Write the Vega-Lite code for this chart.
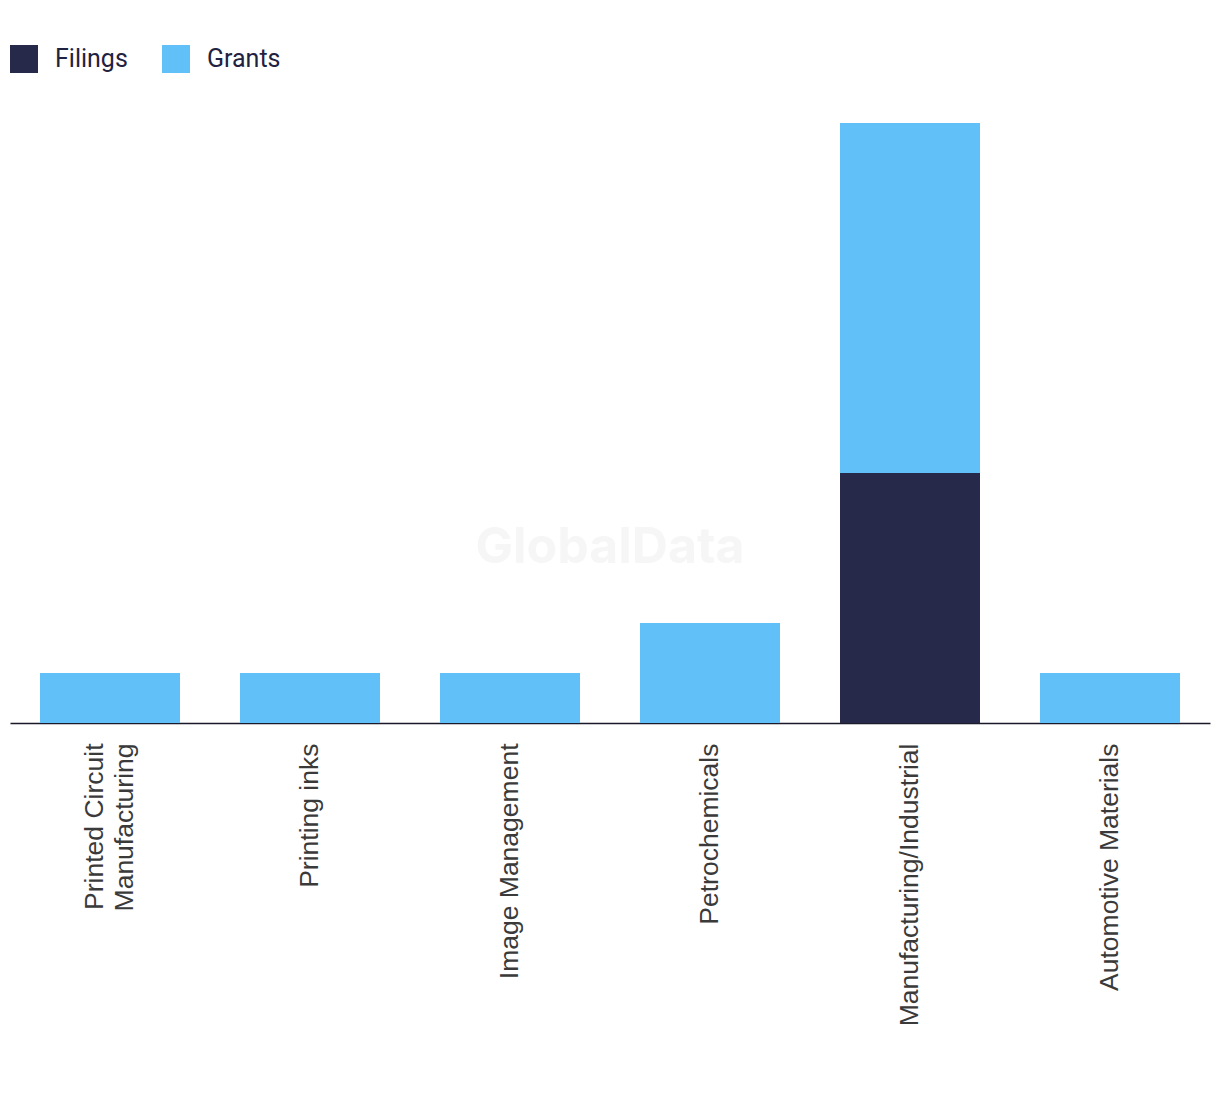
{
  "$schema": "https://vega.github.io/schema/vega-lite/v6.json",
  "autosize": "none",
  "width": 1200,
  "height": 600,
  "padding": {"left": 10, "top": 123, "right": 10, "bottom": 371},
  "background": "white",
  "config": {"view": {"stroke": null}},
  "data": {"values": [
      {"sector": "Printed Circuit Manufacturing", "type": "Grants", "count": 1},
      {"sector": "Printing inks", "type": "Grants", "count": 1},
      {"sector": "Image Management", "type": "Grants", "count": 1},
      {"sector": "Petrochemicals", "type": "Grants", "count": 2},
      {"sector": "Manufacturing/Industrial", "type": "Filings", "count": 5},
      {"sector": "Manufacturing/Industrial", "type": "Grants", "count": 7},
      {"sector": "Automotive Materials", "type": "Grants", "count": 1}
  ]},
  "layer": [
    {
      "mark": {"type": "bar"},
      "encoding": {
        "x": {
          "field": "sector", "type": "nominal",
          "sort": ["Printed Circuit Manufacturing", "Printing inks", "Image Management", "Petrochemicals", "Manufacturing/Industrial", "Automotive Materials"],
          "scale": {"paddingInner": 0.3, "paddingOuter": 0.15},
          "axis": {
            "title": null, "ticks": false, "labelAngle": -90, "labelAlign": "right", "labelBaseline": "middle",
            "labelPadding": 20, "labelFont": "Liberation Sans", "labelFontSize": 26.5, "labelColor": "#3a3a3a",
            "labelLimit": 400, "labelLineHeight": 30,
            "labelOffset": {"condition": {"test": "datum.value == 'Printed Circuit Manufacturing'", "value": -15}, "value": 0},
            "labelExpr": "datum.label == 'Printed Circuit Manufacturing' ? ['Printed Circuit', 'Manufacturing'] : datum.label",
            "domainColor": "#1a1a2a", "domainWidth": 1.5
          }
        },
        "y": {
          "field": "count", "type": "quantitative", "stack": "zero",
          "scale": {"domain": [0, 12]},
          "axis": null
        },
        "color": {
          "field": "type", "type": "nominal",
          "scale": {"domain": ["Filings", "Grants"], "range": ["#27294b", "#62c0f8"]},
          "legend": {
            "title": null, "orient": "none", "direction": "horizontal",
            "legendX": 0, "legendY": -78,
            "symbolType": "square", "symbolSize": 784, "symbolStrokeWidth": 0, "symbolOpacity": 1,
            "labelFont": "Roboto", "labelFontSize": 25, "labelColor": "#1f2240",
            "labelOffset": 17, "columnPadding": 34
          }
        },
        "order": {"field": "type", "sort": "ascending"}
      }
    },
    {
      "data": {"values": [{"wm": "GlobalData"}]},
      "mark": {"type": "text", "x": {"expr": "width/2"}, "fontSize": 50, "fontWeight": "bold", "font": "Inter", "color": "#f6f6f6", "align": "center", "baseline": "middle"},
      "encoding": {
        "y": {"datum": 3.5, "type": "quantitative"},
        "text": {"field": "wm"}
      }
    }
  ]
}
